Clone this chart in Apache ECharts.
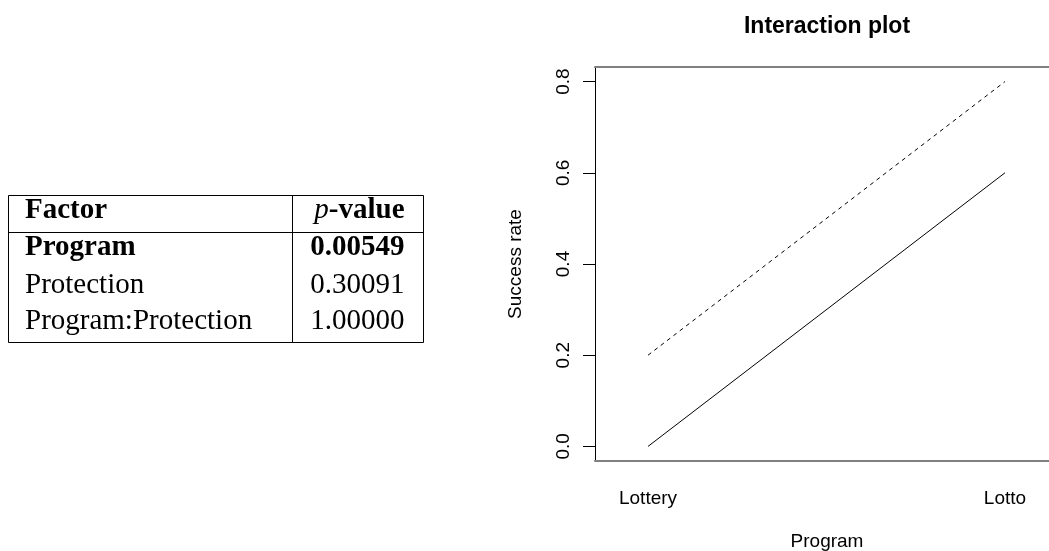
<!DOCTYPE html>
<html>
<head>
<meta charset="utf-8">
<script src="https://cdn.jsdelivr.net/npm/echarts@6/dist/echarts.min.js"></script>
<style>
  html, body { margin: 0; padding: 0; background: #fff; }
  #chart { width: 1049px; height: 551px; }
</style>
</head>
<body>
<div id="chart"></div>
<script>
// ---- data ----
const programs = ['Lottery', 'Lotto'];
const traceSolid = [0.0, 0.6];
const traceDashed = [0.2, 0.8];
const yTicks = [0, 0.2, 0.4, 0.6, 0.8];
const factors = ['Program', 'Protection', 'Program:Protection'];
const pValues = ['0.00549', '0.30091', '1.00000'];
const significant = [true, false, false];

// ---- layout ----
const chart = echarts.init(document.getElementById('chart'), null, { renderer: 'canvas' });
const sans = 'Liberation Sans, Arial, Helvetica, sans-serif';
const serif = 'Liberation Serif, Times New Roman, serif';
const xPos = programs.map((_, i) => i + 1);
const toData = vals => xPos.map((x, i) => [x, vals[i]]);

// table graphics
const tbl = { left: 8.5, top: 195.5, right: 423.5, bottom: 342.5, divider: 292.5, rule: 232.5,
              textLeft: 25, textRight: 404.5, baselines: [220.5, 258, 295, 331.5], fs: 29 };
const midOff = 10;
const graphics = [];
graphics.push({ type: 'rect', shape: { x: tbl.left, y: tbl.top, width: tbl.right - tbl.left, height: tbl.bottom - tbl.top },
                style: { fill: 'none', stroke: '#000', lineWidth: 1 }, silent: true });
graphics.push({ type: 'line', shape: { x1: tbl.divider, y1: tbl.top, x2: tbl.divider, y2: tbl.bottom },
                style: { stroke: '#000', lineWidth: 1 }, silent: true });
graphics.push({ type: 'line', shape: { x1: tbl.left, y1: tbl.rule, x2: tbl.right, y2: tbl.rule },
                style: { stroke: '#000', lineWidth: 1 }, silent: true });
graphics.push({ type: 'text', x: tbl.textLeft, y: tbl.baselines[0] - midOff,
                style: { text: 'Factor', font: 'bold ' + tbl.fs + 'px ' + serif, fill: '#000', align: 'left', verticalAlign: 'middle' } });
graphics.push({ type: 'text', x: tbl.textRight, y: tbl.baselines[0] - midOff,
                style: { text: '{i|p}{b|-value}', fill: '#000', align: 'right', verticalAlign: 'middle',
                         rich: { i: { fontStyle: 'italic', fontSize: tbl.fs, fontFamily: serif, fill: '#000' },
                                 b: { fontWeight: 'bold', fontSize: tbl.fs, fontFamily: serif, fill: '#000' } } } });
factors.forEach((f, i) => {
  const w = significant[i] ? 'bold ' : '';
  graphics.push({ type: 'text', x: tbl.textLeft, y: tbl.baselines[i + 1] - midOff,
                  style: { text: f, font: w + tbl.fs + 'px ' + serif, fill: '#000', align: 'left', verticalAlign: 'middle' } });
  graphics.push({ type: 'text', x: tbl.textRight, y: tbl.baselines[i + 1] - midOff,
                  style: { text: pValues[i], font: w + tbl.fs + 'px ' + serif, fill: '#000', align: 'right', verticalAlign: 'middle' } });
});

const gridLeft = 595, gridWidth = 464, gridTop = 67, gridHeight = 394;
const xMin = 0.8515, xMax = 2.1513;

const option = {
  animation: false,
  backgroundColor: '#fff',
  title: {
    text: 'Interaction plot',
    left: gridLeft + gridWidth / 2, top: 15, textAlign: 'center', padding: 0,
    textStyle: { fontFamily: sans, fontWeight: 'bold', fontSize: 23, color: '#000' }
  },
  grid: { left: gridLeft, top: gridTop, width: gridWidth, height: gridHeight,
          containLabel: false, outerBoundsMode: 'none' },
  xAxis: [
    {
      type: 'value', position: 'bottom', min: xMin, max: xMax,
      name: 'Program', nameLocation: 'middle', nameGap: 71,
      nameTextStyle: { fontFamily: sans, fontSize: 19, color: '#000' },
      axisLine: { show: true, onZero: false, lineStyle: { color: '#808080', width: 2 } },
      axisTick: { show: false },
      splitLine: { show: false },
      axisLabel: {
        customValues: xPos, margin: 28,
        formatter: v => programs[Math.round(v) - 1] || '',
        fontFamily: sans, fontSize: 19, color: '#000'
      }
    },
    {
      type: 'value', position: 'top', min: xMin, max: xMax,
      axisLine: { show: true, onZero: false, lineStyle: { color: '#808080', width: 2 } },
      axisTick: { show: false }, axisLabel: { show: false }, splitLine: { show: false }
    }
  ],
  yAxis: {
    type: 'value', min: -0.032, max: 0.832,
    name: 'Success rate', nameLocation: 'middle', nameGap: 70, nameRotate: 90,
    nameTextStyle: { fontFamily: sans, fontSize: 19, color: '#000' },
    axisLine: { show: true, onZero: false, lineStyle: { color: '#000', width: 1 } },
    axisTick: { show: true, length: 12, customValues: yTicks, lineStyle: { color: '#000', width: 1 } },
    splitLine: { show: false },
    axisLabel: {
      customValues: yTicks, rotate: 90, margin: 22,
      formatter: v => v.toFixed(1),
      fontFamily: sans, fontSize: 19, color: '#000'
    }
  },
  series: [
    {
      name: 'Protection level 1', type: 'line', xAxisIndex: 0, data: toData(traceSolid),
      symbol: 'none', lineStyle: { color: '#000', width: 1, type: 'solid' }, silent: true
    },
    {
      name: 'Protection level 2', type: 'line', xAxisIndex: 0, data: toData(traceDashed),
      symbol: 'none', lineStyle: { color: '#000', width: 1, type: [4, 4] }, silent: true
    }
  ],
  graphic: graphics
};
chart.setOption(option);
</script>
</body>
</html>
